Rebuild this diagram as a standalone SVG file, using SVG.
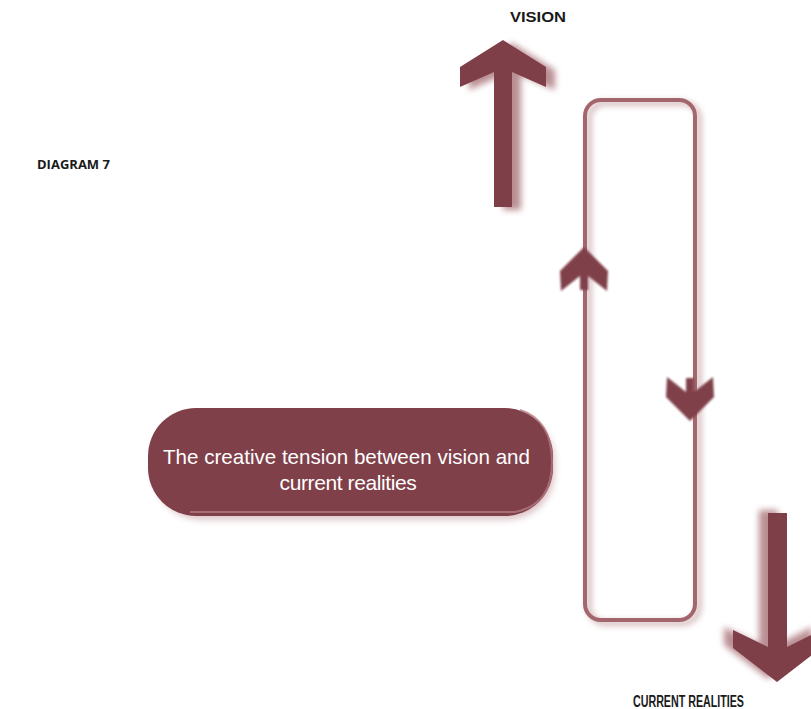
<svg xmlns="http://www.w3.org/2000/svg" width="811" height="709" viewBox="0 0 811 709">
<defs>
<style>
.lbl{font-family:"Liberation Sans",Arial,sans-serif;font-weight:bold;fill:#1a1a1a;}
.title{font-family:"Open Sans","DejaVu Sans",sans-serif;font-weight:bold;font-size:13px;fill:#1a1a1a;}
.boxtxt{font-family:"Liberation Sans",Arial,sans-serif;font-size:21px;fill:#ffffff;}
.dark{fill:#7f3f48;}
.shadow{fill:#9c5e66;opacity:0.7;}
.loop{fill:none;stroke:#a4666d;stroke-width:4;}
</style>
<filter id="blur" x="-20%" y="-20%" width="140%" height="140%"><feGaussianBlur stdDeviation="3"/></filter>
<filter id="blur2" x="-20%" y="-20%" width="140%" height="140%"><feGaussianBlur stdDeviation="1.2"/></filter>
</defs>
<rect width="811" height="709" fill="#ffffff"/>

<g id="connectors">
  <g id="vision-arrow">
    <polygon class="shadow" filter="url(#blur)" transform="translate(9,3)" points="503,40 546,67 546,87 512,72 512,207 494,207 494,72 460,87 460,67"/>
    <polygon class="dark" points="503,40 546,67 546,87 512,72 512,207 494,207 494,72 460,87 460,67"/>
  </g>
  <g id="loop">
    <rect class="loop" x="589" y="103" width="110" height="520" rx="16" filter="url(#blur)" opacity="0.6"/>
    <rect class="loop" x="585" y="100" width="110" height="520" rx="16" stroke="#9a5860" stroke-width="3.5"/>
    <polygon class="dark" filter="url(#blur2)" points="584,247 608,271 607,291 588,276 588,290 580,290 580,276 561,291 560,271"/>
    <polygon class="dark" filter="url(#blur2)" points="690,421 666,397 667,377 686,392 686,378 694,378 694,392 713,377 714,397"/>
  </g>
  <g id="current-arrow">
    <polygon class="shadow" filter="url(#blur)" transform="translate(-9,-3)" points="777,682 733,648 733,630 768,647 768,513 787,513 787,647 821,630 821,648"/>
    <polygon class="dark" points="777,682 733,648 733,630 768,647 768,513 787,513 787,647 821,630 821,648"/>
  </g>
</g>

<g id="title">
  <text class="title" x="37" y="169">DIAGRAM 7</text>
</g>

<g id="vision">
  <text class="lbl" x="510" y="22" font-size="15" textLength="56" lengthAdjust="spacingAndGlyphs">VISION</text>
</g>

<g id="current-realities">
  <text class="lbl" x="633" y="707" font-size="16" textLength="111" lengthAdjust="spacingAndGlyphs">CURRENT REALITIES</text>
</g>

<g id="tension-box">
  <rect x="153" y="413" width="402" height="107" rx="48" fill="#c9a2a7" filter="url(#blur)" opacity="0.6"/>
  <rect x="148" y="408" width="405" height="108" rx="48" fill="#80404a"/>
  <path d="M520,410 Q552,420 552,462 Q552,505 515,512 L190,512" fill="none" stroke="#b0777e" stroke-width="2" opacity="0.8"/>
  <text class="boxtxt" x="163" y="464" textLength="367" lengthAdjust="spacingAndGlyphs">The creative tension between vision and</text>
  <text class="boxtxt" x="348" y="490" text-anchor="middle" letter-spacing="-0.4">current realities</text>
</g>
</svg>
